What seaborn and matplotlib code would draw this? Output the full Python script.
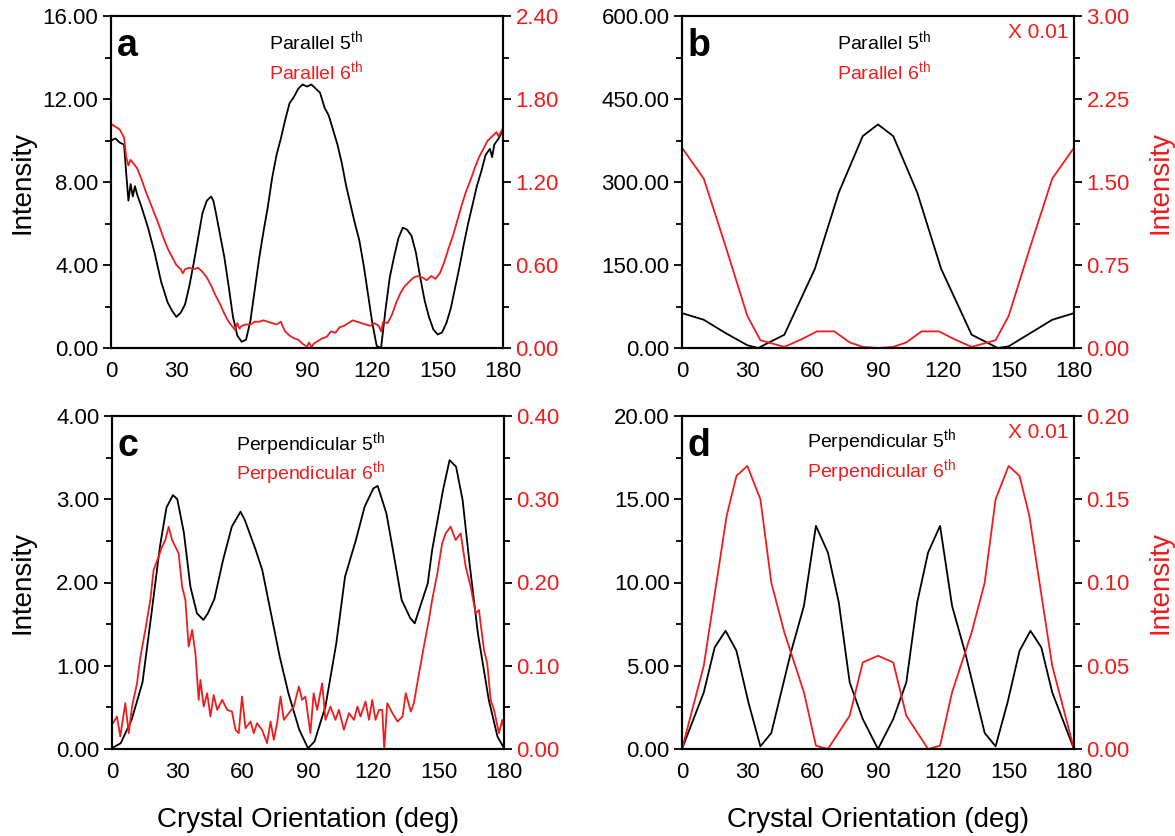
import numpy as np
import pandas as pd
import seaborn as sns
import matplotlib
matplotlib.use("Agg")
import matplotlib.pyplot as plt
from matplotlib.ticker import AutoMinorLocator, FormatStrFormatter, MultipleLocator

# ---------------- data ----------------
# Panel a: Parallel, 5th (left axis) and 6th (right axis)
a5_x = [0, 2, 4, 6, 7, 8, 9, 10, 11, 12, 14, 17, 20, 23, 26, 28, 30, 32, 34, 36, 38, 40, 42, 44, 46, 47, 48,
        50, 52, 54, 56, 58, 60, 62, 64, 66, 68, 70, 72, 74, 76, 78, 80, 82, 84, 86, 88, 90, 92, 94, 96, 98,
        100, 102, 104, 106, 108, 110, 112, 114, 116, 118, 120, 122, 124, 126, 128, 130, 132, 134, 136, 138,
        140, 142, 144, 146, 148, 150, 152, 154, 156, 158, 160, 162, 164, 166, 168, 170, 172, 174, 175, 176,
        178, 180]
a5_y = [10.0, 10.1, 9.9, 9.8, 8.4, 7.1, 7.9, 7.3, 7.8, 7.4, 6.8, 5.8, 4.6, 3.2, 2.2, 1.8, 1.5, 1.7, 2.1, 3.0,
        4.1, 5.3, 6.5, 7.1, 7.3, 7.1, 6.6, 5.5, 4.4, 3.0, 1.5, 0.6, 0.3, 0.4, 1.3, 2.8, 4.3, 5.6, 6.8, 8.2,
        9.3, 10.1, 11.0, 11.8, 12.1, 12.5, 12.7, 12.6, 12.7, 12.5, 12.3, 11.6, 11.2, 10.5, 9.8, 8.9, 7.8,
        6.9, 6.0, 5.2, 4.0, 2.6, 1.2, 0.1, 0.0, 1.8, 3.4, 4.4, 5.3, 5.8, 5.7, 5.4, 4.6, 3.4, 2.3, 1.5, 0.9,
        0.65, 0.75, 1.2, 1.9, 2.9, 3.9, 5.0, 6.0, 6.9, 7.8, 8.5, 9.3, 9.6, 9.2, 9.8, 10.1, 10.5]
a6_x = [0, 2, 4, 6, 7, 8, 9, 10, 12, 14, 16, 18, 20, 22, 24, 26, 28, 30, 32, 33, 34, 36, 38, 40, 42, 44, 46,
        48, 50, 52, 54, 56, 57, 58, 59, 60, 62, 64, 66, 68, 70, 72, 74, 76, 78, 79, 80, 82, 84, 86, 88, 90,
        91, 92, 93, 95, 97, 99, 101, 103, 105, 107, 109, 111, 113, 115, 117, 119, 121, 123, 124, 125, 127,
        129, 131, 133, 135, 137, 139, 141, 143, 145, 147, 149, 151, 153, 155, 157, 159, 161, 163, 165, 167,
        169, 171, 173, 175, 177, 178, 180]
a6_y = [1.62, 1.60, 1.58, 1.52, 1.38, 1.32, 1.36, 1.34, 1.30, 1.22, 1.13, 1.05, 0.97, 0.89, 0.80, 0.72, 0.66,
        0.60, 0.57, 0.54, 0.57, 0.58, 0.57, 0.58, 0.55, 0.51, 0.45, 0.38, 0.32, 0.25, 0.19, 0.15, 0.13, 0.18,
        0.14, 0.16, 0.17, 0.17, 0.19, 0.19, 0.20, 0.19, 0.18, 0.17, 0.19, 0.15, 0.12, 0.09, 0.07, 0.06, 0.03,
        0.01, 0.04, 0.00, 0.03, 0.05, 0.07, 0.08, 0.12, 0.11, 0.15, 0.16, 0.18, 0.20, 0.19, 0.18, 0.17, 0.16,
        0.18, 0.16, 0.12, 0.19, 0.18, 0.24, 0.33, 0.40, 0.45, 0.48, 0.51, 0.52, 0.51, 0.49, 0.52, 0.50, 0.54,
        0.62, 0.72, 0.81, 0.92, 1.03, 1.13, 1.21, 1.30, 1.38, 1.44, 1.50, 1.53, 1.56, 1.53, 1.59]

# Panel b: Parallel, 5th (left) and 6th x0.01 (right)
b5_x = [0, 10, 20, 30, 35, 47, 61, 72, 83, 90, 97, 108, 119, 133, 145, 150, 160, 170, 180]
b5_y = [63, 51, 27, 5, 0, 24, 143, 281, 383, 404, 383, 281, 143, 24, 0, 3, 27, 51, 63]
b6_x = [0, 10, 20, 30, 36, 47, 55, 62, 70, 77, 83, 90, 97, 103, 110, 118, 125, 133, 144, 150, 160, 170, 180]
b6_y = [1.81, 1.53, 0.92, 0.29, 0.07, 0.01, 0.08, 0.15, 0.15, 0.05, 0.01, 0.0, 0.01, 0.05, 0.15, 0.15,
        0.08, 0.01, 0.07, 0.29, 0.92, 1.53, 1.81]

# Panel c: Perpendicular, 5th (left) and 6th (right)
c5_x = [0, 4, 9, 14, 18, 22, 25, 28, 30, 33, 36, 39, 42, 44, 47, 51, 55, 59, 61, 66, 69, 73, 77, 81, 86, 90,
        93, 98, 103, 107, 112, 116, 120, 122, 126, 129, 133, 137, 139, 142, 145, 147, 152, 155, 158, 161,
        164, 168, 173, 177, 180]
c5_y = [0.01, 0.07, 0.35, 0.80, 1.60, 2.43, 2.90, 3.05, 3.00, 2.60, 1.95, 1.63, 1.55, 1.63, 1.80, 2.27, 2.67,
        2.85, 2.75, 2.39, 2.15, 1.63, 1.11, 0.67, 0.23, 0.01, 0.09, 0.51, 1.27, 2.07, 2.51, 2.91, 3.13, 3.16,
        2.83, 2.39, 1.79, 1.57, 1.51, 1.75, 1.99, 2.39, 3.11, 3.47, 3.39, 2.99, 2.27, 1.39, 0.59, 0.15, 0.01]
c6_x = [0, 2.3, 3.8, 6.1, 7.7, 9.2, 11.5, 13, 15.3, 17.6, 19.1, 21.4, 23, 24.5, 26, 27.6, 29.1, 30.6, 32.2,
        33.7, 35.2, 36.8, 38.3, 39.8, 40.6, 42.1, 43.7, 45.2, 46.7, 48.3, 50.6, 52.9, 55.1, 56.7, 58.2, 59.7,
        61.3, 63.6, 65.1, 66.6, 68.9, 71.2, 72.8, 74.3, 75.8, 77.4, 78.9, 81.2, 83.5, 85.8, 87.3, 88.8, 91.1,
        92.6, 94.2, 96.5, 98, 100.3, 102.6, 104.2, 106.5, 108.8, 111.1, 112.7, 114.1, 116.4, 118, 119.5, 121,
        122.6, 124.1, 125, 126.4, 128.8, 131.1, 133.4, 134.9, 137.2, 138.6, 141, 143.2, 145.5, 147, 149.4,
        151.6, 153.2, 155.5, 157.8, 160.1, 162.4, 164.7, 167, 168.5, 170.8, 172.3, 173.9, 175.4, 177.7,
        179.2, 180]
c6_y = [0.029, 0.039, 0.015, 0.055, 0.019, 0.051, 0.079, 0.110, 0.143, 0.179, 0.215, 0.231, 0.243, 0.251,
        0.267, 0.251, 0.243, 0.235, 0.195, 0.179, 0.123, 0.143, 0.115, 0.059, 0.083, 0.051, 0.067, 0.039,
        0.065, 0.047, 0.059, 0.047, 0.045, 0.023, 0.019, 0.063, 0.025, 0.033, 0.019, 0.031, 0.023, 0.007,
        0.033, 0.011, 0.031, 0.063, 0.035, 0.043, 0.051, 0.075, 0.059, 0.063, 0.019, 0.067, 0.047, 0.079,
        0.035, 0.051, 0.035, 0.047, 0.023, 0.043, 0.035, 0.051, 0.039, 0.057, 0.035, 0.059, 0.035, 0.047,
        0.047, 0.000, 0.055, 0.043, 0.033, 0.039, 0.067, 0.045, 0.055, 0.091, 0.123, 0.155, 0.179, 0.211,
        0.247, 0.259, 0.267, 0.251, 0.259, 0.219, 0.195, 0.163, 0.167, 0.119, 0.103, 0.059, 0.047, 0.019,
        0.035, 0.025]

# Panel d: Perpendicular, 5th (left) and 6th x0.01 (right)
d5_x = [0, 10, 15, 20, 25, 30.5, 36, 41, 50, 56, 61.5, 67, 72, 77, 83, 90, 97, 103, 108, 113, 118.5, 124,
        130, 139, 144, 149.5, 155, 160, 165, 170, 180]
d5_y = [0, 3.4, 6.1, 7.1, 5.9, 2.8, 0.16, 0.96, 5.8, 8.6, 13.4, 11.8, 8.8, 4.0, 1.8, 0, 1.8, 4.0, 8.8, 11.8,
        13.4, 8.6, 5.8, 0.96, 0.16, 2.8, 5.9, 7.1, 6.1, 3.4, 0]
d6_x = [0, 10, 20.5, 25, 30, 36, 41, 47, 56, 61.5, 67, 77, 83, 90, 97, 103, 113, 118.5, 124, 133, 139,
        144, 150, 155, 159.5, 170, 180]
d6_y = [0, 0.05, 0.14, 0.164, 0.17, 0.15, 0.10, 0.07, 0.034, 0.002, 0.0, 0.02, 0.052, 0.056, 0.052, 0.02,
        0.0, 0.002, 0.034, 0.07, 0.10, 0.15, 0.17, 0.164, 0.14, 0.05, 0]

xticks = [0, 30, 60, 90, 120, 150, 180]

# ---------------- style ----------------
sns.set_style("white")
plt.rcParams["font.family"] = ["Liberation Sans", "DejaVu Sans"]
plt.rcParams["mathtext.fontset"] = "custom"
plt.rcParams["mathtext.rm"] = "Liberation Sans"
plt.rcParams["mathtext.it"] = "Liberation Sans:italic"
plt.rcParams["mathtext.bf"] = "Liberation Sans:bold"
plt.rcParams["text.color"] = "black"
plt.rcParams["axes.labelcolor"] = "black"
plt.rcParams["xtick.color"] = "black"
plt.rcParams["ytick.color"] = "black"

RED = "#ee1c1c"
TICK_FS = 16
LAB_FS = 20
TXT_FS = 14

FW, FH = 1175, 836
fig = plt.figure(figsize=(FW / 100, FH / 100), dpi=100)

W = 392 / FW
positions = {
    "a": [111 / FW, 1 - 348 / FH, W, 332 / FH],
    "b": [682 / FW, 1 - 348 / FH, W, 332 / FH],
    "c": [112 / FW, 1 - 749 / FH, W, 333 / FH],
    "d": [682 / FW, 1 - 749 / FH, W, 333 / FH],
}


def style_axis(ax, label_color):
    for s in ax.spines.values():
        s.set_linewidth(1.5)
        s.set_color("black")
    ax.tick_params(axis="both", which="major", direction="out", length=6, width=1.3,
                   labelsize=TICK_FS, pad=3, color="black")
    ax.tick_params(axis="both", which="minor", direction="out", length=4, width=1.3, color="black")
    ax.tick_params(axis="y", labelcolor=label_color)


def panel(key, x5, y5, x6, y6, lmax, lstep, rmax, rstep,
          t5, t6, letter, txt_x, t5_y, t6_y, scale_note, bottom_label):
    ax = fig.add_axes(positions[key])
    ax2 = ax.twinx()
    df5 = pd.DataFrame({"x": x5, "y": y5})
    df6 = pd.DataFrame({"x": x6, "y": y6})
    sns.lineplot(data=df5, x="x", y="y", ax=ax, color="black", lw=1.3, estimator=None, sort=False)
    sns.lineplot(data=df6, x="x", y="y", ax=ax2, color=RED, lw=1.3, estimator=None, sort=False)
    ax.set_xlim(0, 180)
    ax.set_ylim(0, lmax)
    ax2.set_ylim(0, rmax)
    ax.set_xticks(xticks)
    ax.xaxis.set_minor_locator(AutoMinorLocator(2))
    ax.yaxis.set_major_locator(MultipleLocator(lstep))
    ax.yaxis.set_minor_locator(AutoMinorLocator(2))
    ax2.yaxis.set_major_locator(MultipleLocator(rstep))
    ax2.yaxis.set_minor_locator(AutoMinorLocator(2))
    ax.yaxis.set_major_formatter(FormatStrFormatter("%.2f"))
    ax2.yaxis.set_major_formatter(FormatStrFormatter("%.2f"))
    style_axis(ax, "black")
    style_axis(ax2, RED)
    ax.tick_params(axis="x", labelcolor="black")
    ax.set_ylabel("")
    ax2.set_ylabel("")
    ax.set_xlabel("")
    if bottom_label:
        ax.set_xlabel("Crystal Orientation (deg)", fontsize=LAB_FS, color="black")
        ax.xaxis.set_label_coords(0.5, -0.175)
    ax.text(0.015, 0.88, letter, transform=ax.transAxes, fontsize=27, fontweight="bold",
            color="black", ha="left", va="baseline")
    ax.text(txt_x, t5_y, t5, transform=ax.transAxes, fontsize=TXT_FS, color="black",
            ha="center", va="center")
    ax.text(txt_x, t6_y, t6, transform=ax.transAxes, fontsize=TXT_FS, color=RED,
            ha="center", va="center")
    if scale_note:
        ax.text(0.987, 0.949, "X 0.01", transform=ax.transAxes, fontsize=15, color=RED,
                ha="right", va="center")
    return ax, ax2


panel("a", a5_x, a5_y, a6_x, a6_y, 16, 4, 2.4, 0.6,
      r"Parallel 5$^{\rm th}$", r"Parallel 6$^{\rm th}$", "a", 0.523, 0.925, 0.835, False, False)
panel("b", b5_x, b5_y, b6_x, b6_y, 600, 150, 3.0, 0.75,
      r"Parallel 5$^{\rm th}$", r"Parallel 6$^{\rm th}$", "b", 0.515, 0.925, 0.835, True, False)
panel("c", c5_x, c5_y, c6_x, c6_y, 4, 1, 0.4, 0.1,
      r"Perpendicular 5$^{\rm th}$", r"Perpendicular 6$^{\rm th}$", "c", 0.506, 0.915, 0.83, False, True)
panel("d", d5_x, d5_y, d6_x, d6_y, 20, 5, 0.2, 0.05,
      r"Perpendicular 5$^{\rm th}$", r"Perpendicular 6$^{\rm th}$", "d", 0.509, 0.925, 0.835, True, True)

# y-axis titles
for cx, cy, col in [(22, 182, "black"), (22, 582, "black"), (1160, 183, RED), (1160, 583, RED)]:
    fig.text(cx / FW, 1 - cy / FH, "Intensity", rotation=90, fontsize=LAB_FS, color=col,
             ha="center", va="center")

fig.savefig("out.png", dpi=100)
